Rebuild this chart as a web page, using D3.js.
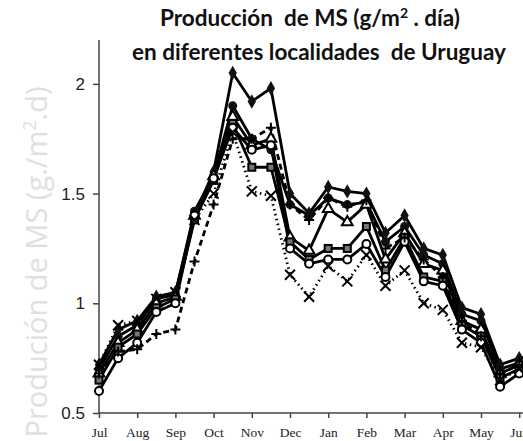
<!DOCTYPE html>
<head>
<meta charset="utf-8">
<title>Produccion de MS</title>
<script type="text/javascript" src="https://d3js.org/d3.v7.min.js"></script>
<style>
  body { margin: 0; background: #fff; }
  text { white-space: pre; }
</style>
</head>

<body>
<div id="container"></div>
<script>

// month tick labels, one every two half-month points
const months = ["Jul", "Aug", "Sep", "Oct", "Nov", "Dec", "Jan", "Feb", "Mar", "Apr", "May", "Jun"]
const yTicks = [0.5, 1, 1.5, 2]

// half-monthly growth rates (g/m2.d)
const diamond  = [0.72,0.88,0.92,1.03,1.05,1.40,1.60,2.05,1.92,1.98,1.50,1.41,1.53,1.51,1.50,1.32,1.40,1.25,1.22,0.98,0.95,0.72,0.75,0.76]
const dot      = [0.70,0.85,0.90,1.02,1.04,1.42,1.58,1.90,1.75,1.70,1.45,1.40,1.48,1.45,1.46,1.28,1.35,1.22,1.18,0.95,0.92,0.70,0.73,0.74]
const triangle = [0.68,0.82,0.88,1.00,1.03,1.40,1.58,1.85,1.72,1.75,1.30,1.24,1.43,1.37,1.45,1.20,1.32,1.18,1.15,0.92,0.88,0.68,0.72,0.73]
const square   = [0.65,0.80,0.86,0.98,1.02,1.38,1.56,1.82,1.62,1.62,1.28,1.20,1.25,1.25,1.35,1.15,1.30,1.12,1.10,0.90,0.85,0.66,0.70,0.71]
const circle   = [0.60,0.75,0.82,0.96,1.00,1.40,1.57,1.80,1.70,1.72,1.25,1.18,1.20,1.20,1.27,1.12,1.28,1.10,1.08,0.88,0.82,0.62,0.68,0.69]
const plus     = [0.68,0.78,0.79,0.86,0.88,1.19,1.45,1.75,1.75,1.80,1.45,1.38,1.48,1.44,1.47,1.25,1.30,1.20,1.12,0.92,0.85,0.68,0.72,0.73]
const cross    = [0.72,0.90,0.92,1.02,1.05,1.38,1.50,1.78,1.51,1.49,1.13,1.03,1.17,1.10,1.22,1.08,1.15,1.00,0.97,0.82,0.80,0.65,0.70,0.71]

function chart() {
  const width = 523; const height = 441;
  const margin = ({top: 40, right: 0, bottom: 28, left: 99})

  const series = [
    {name: "diamond", values: diamond, dash: null},
    {name: "dot", values: dot, dash: null},
    {name: "triangle", values: triangle, dash: null},
    {name: "square", values: square, dash: null},
    {name: "circle", values: circle, dash: null},
    {name: "plus", values: plus, dash: "6,4"},
    {name: "cross", values: cross, dash: "1.5,3.5"}
  ]

  const svg = d3.select("div#container").append("svg")
      .attr("width", width).attr("height", height)
      .attr("viewBox", [0, 0, width, height]);

  const step = 38.2 / 2
  const xScale = d3.scaleLinear().domain([0, 1])
    .range([margin.left, margin.left + step])
  const yScale = d3.scaleLinear().domain([0.5, 2.2])
    .range([height - margin.bottom, margin.top])

  // y label, pale grey
  const yl = svg.append("text")
    .attr("transform", `translate(47,262) rotate(-90)`)
    .attr("text-anchor", "middle").attr("font-family", "'Open Sans', sans-serif")
    .attr("font-size", 29).attr("fill", "#e0e0e0")
  yl.append("tspan").text("Produción de MS (g./m")
  yl.append("tspan").attr("font-size", 18).attr("dy", -11).text("2")
  yl.append("tspan").attr("dy", 11).text(".d)")

  // titles
  const title = svg.append("g").attr("font-family", "Lato, sans-serif")
    .attr("font-weight", "bold").attr("font-size", 22.5).attr("text-anchor", "middle")
    .attr("fill", "#111")
  const t1 = title.append("text").attr("x", 310).attr("y", 26)
  t1.append("tspan").text("Producción  de MS (g/m")
  t1.append("tspan").attr("font-size", 14).attr("dy", -8).text("2")
  t1.append("tspan").attr("dy", 8).text(" . día)")
  title.append("text").attr("x", 319).attr("y", 60).text("en diferentes localidades  de Uruguay")

  // axes
  svg.append("g")
    .attr("transform", `translate(${margin.left},0)`)
    .call(d3.axisLeft(yScale).tickValues(yTicks).tickSize(6).tickPadding(8)
      .tickFormat(d => d))
    .call(g => g.select(".domain").attr("d", `M0,${yScale(2.2)}V${yScale(0.5)}`)
      .attr("stroke", "#444").attr("stroke-width", 1.5))
    .call(g => g.selectAll(".tick line").attr("stroke", "#444").attr("stroke-width", 1.5))
    .call(g => g.selectAll(".tick text").attr("font-family", "'Liberation Sans', Arial")
      .attr("font-size", 17).attr("fill", "#222"))

  svg.append("g")
    .attr("transform", `translate(0,${yScale(0.5)})`)
    .call(d3.axisBottom(xScale).tickValues(d3.range(0, 24, 2)).tickSize(5).tickPadding(9)
      .tickFormat(d => months[d / 2]))
    .call(g => g.select(".domain").attr("d", `M${margin.left},0H${width}`)
      .attr("stroke", "#444").attr("stroke-width", 1.5))
    .call(g => g.selectAll(".tick line").attr("stroke", "#444").attr("stroke-width", 1.5))
    .call(g => g.selectAll(".tick text").attr("font-family", "'Liberation Serif', serif")
      .attr("font-size", 13.5).attr("fill", "#222"))

  const line = d3.line()
    .x((d, i) => xScale(i))
    .y(d => yScale(d))

  svg.append("g").attr("fill", "none").attr("stroke", "#000")
    .attr("stroke-width", 2.8).attr("stroke-linejoin", "round")
    .selectAll("path").data(series).join("path")
    .attr("stroke-dasharray", d => d.dash)
    .attr("d", d => line(d.values))

  // markers
  const marker = {
    diamond: g => g.append("path").attr("d", d3.symbol(d3.symbolDiamond, 60)()).attr("fill", "#111"),
    dot: g => g.append("circle").attr("r", 4.5).attr("fill", "#111"),
    triangle: g => g.append("path").attr("d", d3.symbol(d3.symbolTriangle, 50)())
      .attr("fill", "#fff").attr("stroke", "#000").attr("stroke-width", 2),
    square: g => g.append("rect").attr("x", -3.5).attr("y", -3.5).attr("width", 7).attr("height", 7)
      .attr("fill", "#777").attr("stroke", "#000").attr("stroke-width", 2),
    circle: g => g.append("circle").attr("r", 4).attr("fill", "#fff")
      .attr("stroke", "#000").attr("stroke-width", 2),
    plus: g => g.append("path").attr("d", "M-5,0H5M0,-5V5").attr("stroke", "#000").attr("stroke-width", 2),
    cross: g => g.append("path").attr("d", "M-5,-5L5,5M-5,5L5,-5").attr("stroke", "#000").attr("stroke-width", 2)
  }

  for (let s of series) {
    svg.append("g").selectAll("g").data(s.values).join("g")
      .attr("transform", (d, i) => `translate(${xScale(i)},${yScale(d)})`)
      .each(function() { marker[s.name](d3.select(this)) })
  }

  return svg.node();
}

chart()

</script>
</body>
